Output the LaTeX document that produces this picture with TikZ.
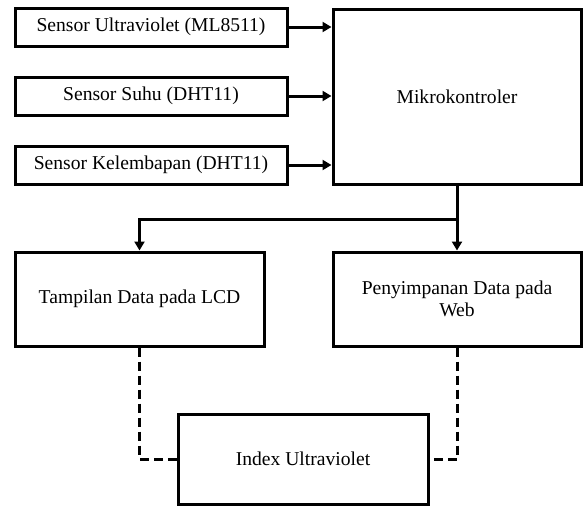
\documentclass[tikz,border=0pt]{standalone}
\usepackage{fontspec}
\setmainfont{Liberation Serif}
\usetikzlibrary{arrows.meta}
\tikzset{
  block/.style={draw, line width=3pt, rectangle, inner sep=0pt, align=center,
    font=\fontsize{19.6}{22}\selectfont},
  arr/.style={line width=3pt, -{Triangle[length=9pt,width=10pt]}},
  dashlink/.style={line width=3pt, dash pattern=on 9pt off 5pt}
}
\begin{document}
\begin{tikzpicture}[x=1pt,y=-1pt]
  \useasboundingbox (0,0) rectangle (583,506);
  % sensor inputs
  \node[block, minimum width=272pt, minimum height=38pt] (uv)  at (151,27)  {Sensor Ultraviolet (ML8511)};
  \node[block, minimum width=272pt, minimum height=38pt] (suhu) at (151,96) {Sensor Suhu (DHT11)};
  \node[block, minimum width=272pt, minimum height=38pt] (kel) at (151,165) {Sensor Kelembapan (DHT11)};
  % controller
  \node[block, minimum width=248pt, minimum height=175pt] (mcu) at (457,96.5) {Mikrokontroler};
  % outputs
  \node[block, minimum width=249pt, minimum height=94pt] (lcd) at (139.5,299) {Tampilan Data pada LCD};
  \node[block, minimum width=248pt, minimum height=94pt] (web) at (457,299) {Penyimpanan Data pada\\Web};
  \node[block, minimum width=250pt, minimum height=90pt] (idx) at (303,459) {Index Ultraviolet};
  % sensor to controller
  \draw[arr] (uv.east) -- (uv.east -| mcu.west);
  \draw[arr] (suhu.east) -- (suhu.east -| mcu.west);
  \draw[arr] (kel.east) -- (kel.east -| mcu.west);
  % controller to outputs
  \coordinate (split) at (457,219);
  \draw[arr] (mcu.south) -- (web.north);
  \draw[arr] (split) -| (lcd.north);
  % outputs to index
  \draw[dashlink] (lcd.south) |- (idx.west);
  \draw[dashlink] (web.south) |- (idx.east);
\end{tikzpicture}
\end{document}
